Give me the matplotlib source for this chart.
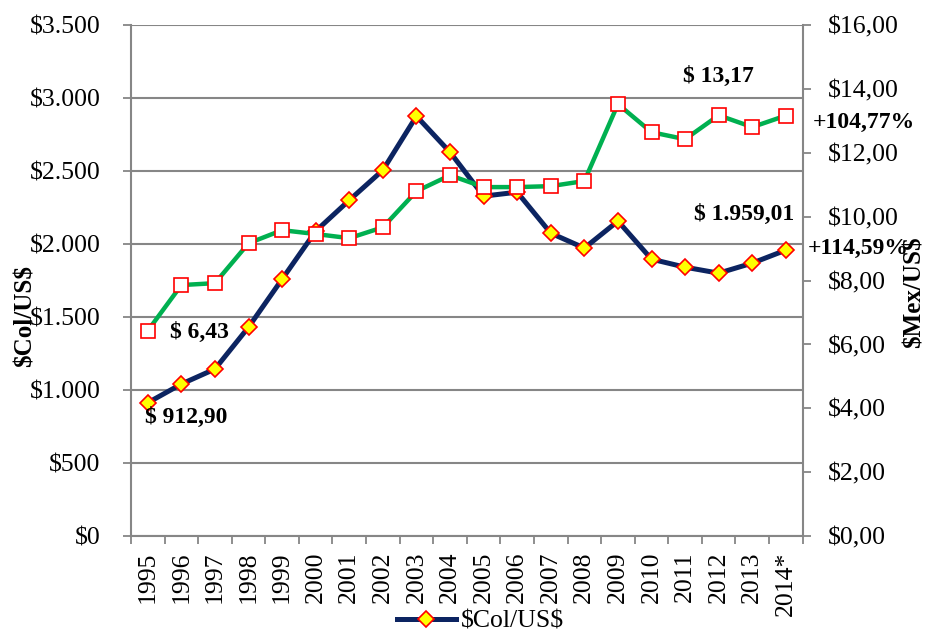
import matplotlib.pyplot as plt
from matplotlib.lines import Line2D

years = ["1995", "1996", "1997", "1998", "1999", "2000", "2001", "2002",
         "2003", "2004", "2005", "2006", "2007", "2008", "2009", "2010",
         "2011", "2012", "2013", "2014*"]
col_usd = [912.90, 1041, 1144, 1431, 1760, 2089, 2301, 2507, 2877, 2630,
           2329, 2356, 2075, 1973, 2158, 1897, 1842, 1801, 1870, 1959.01]
mex_usd = [6.43, 7.86, 7.92, 9.17, 9.58, 9.46, 9.33, 9.67, 10.80, 11.30,
           10.93, 10.93, 10.96, 11.12, 13.53, 12.65, 12.43, 13.18, 12.81, 13.17]
left_ticks = [0, 500, 1000, 1500, 2000, 2500, 3000, 3500]
left_labels = ["\\$0", "\\$500", "\\$1.000", "\\$1.500", "\\$2.000",
               "\\$2.500", "\\$3.000", "\\$3.500"]
right_ticks = [0, 2, 4, 6, 8, 10, 12, 14, 16]
right_labels = ["\\$0,00", "\\$2,00", "\\$4,00", "\\$6,00", "\\$8,00",
                "\\$10,00", "\\$12,00", "\\$14,00", "\\$16,00"]

plt.rcParams["font.family"] = "Liberation Serif"
grid_color = "#868686"
navy = "#0C2461"
green = "#00B050"
tick_size = 18.5

fig = plt.figure(figsize=(9.29, 6.32), dpi=100)
ax = fig.add_axes([0.141, 0.152, 0.723, 0.808])
x = list(range(len(years)))

ax.plot(x, col_usd,
        color=navy,
        lw=3.6,
        marker="D",
        markersize=8.5,
        markerfacecolor="#FFFF00",
        markeredgecolor="#FF0000",
        markeredgewidth=1.2,
        zorder=3)
ax.set_xlim(-0.5, len(years) - 0.5)
ax.set_ylim(0, 3500)
ax.set_yticks(left_ticks)
ax.set_yticklabels(left_labels)
ax.set_xticks([i - 0.5 for i in range(len(years) + 1)])
ax.set_xticklabels([])
ax.set_xticks(x, minor=True)
ax.set_xticklabels(years, minor=True, rotation=90)
ax.tick_params(axis="x", which="minor", length=0, labelsize=tick_size,
               pad=11)
ax.tick_params(axis="x", which="major", length=6, color=grid_color,
               width=1.3)
ax.tick_params(axis="y", labelsize=tick_size, length=6, color=grid_color,
               width=1.3, pad=16)
ax.grid(axis="y", color=grid_color, lw=1.5)
ax.set_axisbelow(True)
for side in ["left", "right", "bottom"]:
    ax.spines[side].set_color(grid_color)
    ax.spines[side].set_linewidth(1.5)
ax.spines["top"].set_visible(False)
ax.set_ylabel("\\$Col/US\\$", fontsize=18, fontweight="bold",
              va="center")
ax.yaxis.set_label_coords(-0.158, 0.43)

ax2 = ax.twinx()
ax2.plot(x, mex_usd,
         color=green,
         lw=3.2,
         marker="s",
         markersize=10.5,
         markerfacecolor="white",
         markeredgecolor="#FF0000",
         markeredgewidth=1.2)
ax2.set_ylim(0, 16)
ax2.set_yticks(right_ticks)
ax2.set_yticklabels(right_labels)
ax2.tick_params(axis="y", labelsize=tick_size, length=6, color=grid_color,
                width=1.3, pad=12)
for side in ["left", "right", "bottom", "top"]:
    ax2.spines[side].set_visible(False)
ax2.set_ylabel("\\$Mex/US\\$", fontsize=18, fontweight="bold",
               va="center")
ax2.yaxis.set_label_coords(1.166, 0.477)

bold = dict(fontsize=17, fontweight="bold", va="center")
ax.text(-0.07, 815, "\\$ 912,90", ha="left", **bold)
ax.text(0.65, 1398, "\\$ 6,43", ha="left", **bold)
ax.text(19.25, 2205, "\\$ 1.959,01", ha="right", **bold)
ax.text(17.0, 3150, "\\$ 13,17", ha="center", **bold)
fig.text(0.875, 1 - 122 / 632, "+104,77%", ha="left", **bold)
fig.text(0.870, 1 - 248 / 632, "+114,59%", ha="left", **bold)

handle = Line2D([], [], color=navy, lw=3.6, marker="D", markersize=8.5,
                markerfacecolor="#FFFF00", markeredgecolor="#FF0000",
                markeredgewidth=1.2)
fig.legend([handle], ["\\$Col/US\\$"], loc="center", frameon=False,
           bbox_to_anchor=(0.517, 1 - 621 / 632), fontsize=tick_size,
           handlelength=2.3, handletextpad=0.2, borderpad=0)

fig.savefig("out.png", dpi=100)
